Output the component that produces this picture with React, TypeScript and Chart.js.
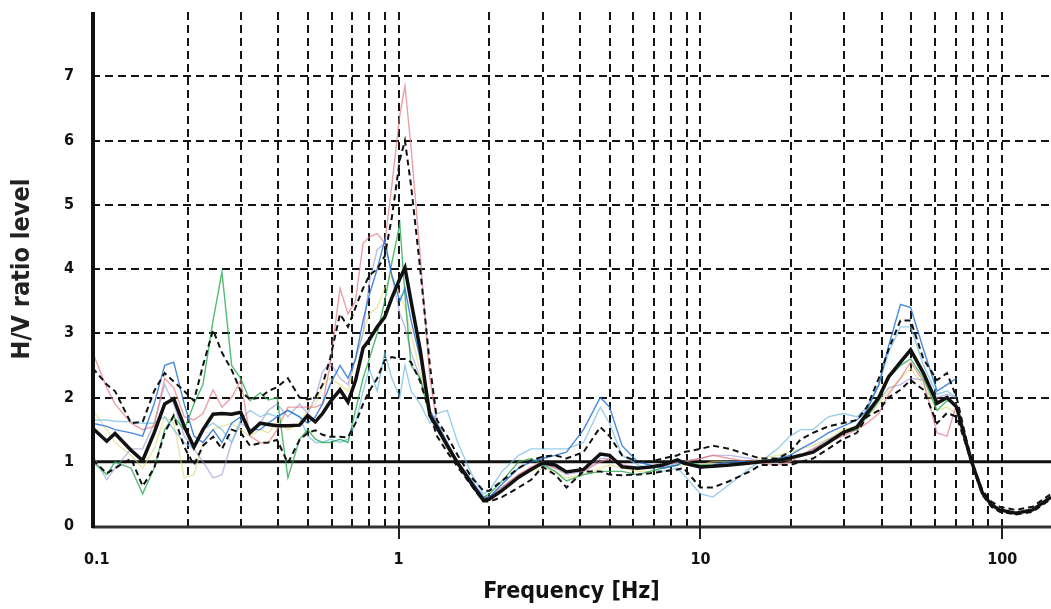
import React, { useEffect, useRef } from "react";
import { Chart, registerables } from "chart.js";
Chart.register(...registerables);

// Frequencies (Hz) shared by all curves
const FREQ = [
  0.097, 0.108, 0.115, 0.13, 0.142, 0.155, 0.168, 0.18, 0.195, 0.21,
  0.225, 0.243, 0.26, 0.28, 0.3, 0.322, 0.348, 0.37, 0.396, 0.43,
  0.47, 0.5, 0.53, 0.56, 0.593, 0.64, 0.68, 0.72, 0.763, 0.8,
  0.85, 0.9, 0.95, 1.01, 1.05, 1.1, 1.18, 1.27, 1.34, 1.45,
  1.57, 1.75, 1.91, 2.0, 2.2, 2.5, 2.75, 3.0, 3.3, 3.6,
  4.1, 4.66, 5.0, 5.5, 6.2, 6.8, 7.5, 8.4, 8.8, 10,
  11, 12.5, 14.6, 15.8, 18, 19.8, 21.5, 23.6, 26.5, 29.6,
  33, 35.6, 39, 42, 46, 49.7, 54.8, 60.8, 65.6, 70.6,
  76, 79.4, 86, 92, 98, 111, 126, 145,
];

// Average H/V curve (thick black)
const MEAN = [
  1.52, 1.32, 1.44, 1.18, 1.02, 1.45, 1.9, 1.98, 1.55, 1.23,
  1.5, 1.74, 1.75, 1.74, 1.77, 1.45, 1.6, 1.58, 1.56, 1.56,
  1.57, 1.72, 1.62, 1.75, 1.93, 2.12, 1.93, 2.26, 2.77, 2.9,
  3.1, 3.25, 3.55, 3.85, 4.02, 3.5, 2.74, 1.72, 1.54, 1.25,
  0.98, 0.65, 0.4, 0.42, 0.55, 0.76, 0.88, 0.98, 0.95, 0.84,
  0.88, 1.12, 1.1, 0.92, 0.9, 0.92, 0.95, 1.03, 0.98, 0.92,
  0.93, 0.95, 0.98, 1.0, 1.02, 1.06, 1.1, 1.15, 1.3, 1.45,
  1.54, 1.75, 2.0, 2.32, 2.55, 2.74, 2.38, 1.91, 2.0, 1.85,
  1.29, 0.98, 0.51, 0.33, 0.25, 0.2, 0.25, 0.45,
];

// Mean + standard deviation (black dashed)
const UPPER = [
  2.46, 2.2, 2.1, 1.6, 1.62, 2.1, 2.38, 2.25, 2.1, 1.95,
  2.5, 3.05, 2.7, 2.43, 2.1, 1.97, 2.0, 2.1, 2.16, 2.3,
  2.0, 1.97, 2.0, 2.2, 2.6, 3.3, 3.1, 3.4, 3.7, 3.9,
  4.0, 4.2, 4.8, 5.7, 6.0, 5.3, 4.0, 2.5, 1.65, 1.4,
  1.1, 0.75, 0.55, 0.55, 0.7, 0.9, 1.02, 1.08, 1.1, 1.05,
  1.15, 1.54, 1.4, 1.1, 1.0, 1.0, 1.05, 1.1, 1.15, 1.2,
  1.25, 1.2, 1.1, 1.05, 1.05, 1.15, 1.35, 1.45, 1.55, 1.6,
  1.65, 1.85, 2.3, 2.75, 3.2, 3.2, 2.6, 2.27, 2.38, 2.0,
  1.35, 1.0, 0.55, 0.38, 0.3, 0.25, 0.3, 0.5,
];

// Mean - standard deviation (black dashed)
const LOWER = [
  1.03, 0.82, 0.9, 1.05, 0.62, 0.9, 1.45, 1.72, 1.23, 0.95,
  1.25, 1.39, 1.2, 1.5, 1.45, 1.25, 1.29, 1.3, 1.34, 0.98,
  1.34, 1.45, 1.49, 1.42, 1.39, 1.39, 1.38, 1.6, 1.9, 2.1,
  2.3, 2.58, 2.63, 2.6, 2.6, 2.55, 2.25, 1.75, 1.4, 1.15,
  0.92, 0.62, 0.38, 0.38, 0.45, 0.6, 0.72, 0.92, 0.8, 0.6,
  0.85, 0.85, 0.8, 0.79, 0.8, 0.82, 0.85, 0.88, 0.9, 0.6,
  0.6, 0.7, 0.85, 0.95, 0.95, 0.95, 1.0, 1.05, 1.2, 1.35,
  1.45, 1.7, 1.8, 2.0, 2.12, 2.27, 2.12, 1.6, 1.76, 1.7,
  1.25, 0.95, 0.48, 0.3, 0.22, 0.18, 0.22, 0.42,
];

// Individual windows (thin coloured curves, up to ~71 Hz)
const RED = [
  2.7, 2.15, 1.9, 1.6, 1.5, 1.55, 2.3, 2.15, 1.7, 1.65,
  1.75, 2.12, 1.85, 2.0, 2.27, 1.4, 1.3, 1.29, 1.5, 1.85,
  1.85, 1.85, 1.85, 1.9, 2.5, 3.7, 3.3, 3.5, 4.4, 4.5,
  4.55, 4.4, 5.3, 6.4, 6.85, 5.9, 4.2, 2.3, 1.6, 1.3,
  1.0, 0.7, 0.45, 0.45, 0.6, 0.8, 0.92, 1.0, 0.9, 0.85,
  0.85, 1.0, 1.05, 0.95, 0.9, 0.92, 0.95, 1.0, 1.0, 1.05,
  1.1, 1.05, 1.0, 0.98, 0.95, 1.0, 1.1, 1.2, 1.3, 1.4,
  1.5, 1.6, 1.75, 2.05, 2.3, 2.55, 2.25, 1.45, 1.4, 1.9,
];
const BLUE = [
  1.6, 1.55, 1.5, 1.45, 1.4, 1.9, 2.5, 2.55, 1.9, 1.4,
  1.3, 1.5, 1.3, 1.6, 1.7, 1.5, 1.5, 1.6, 1.7, 1.8,
  1.7, 1.6, 1.7, 1.9, 2.2, 2.5, 2.3, 2.6, 3.2, 3.6,
  4.0, 4.45, 3.9, 3.5, 3.7, 3.2, 2.6, 1.8, 1.6, 1.3,
  1.0, 0.7, 0.45, 0.45, 0.65, 0.9, 1.0, 1.05, 1.1, 1.15,
  1.5, 2.0, 1.85, 1.25, 1.0, 0.95, 0.9, 0.95, 1.0, 0.9,
  0.95, 1.0, 1.0, 1.0, 1.05, 1.1, 1.2, 1.3, 1.45, 1.55,
  1.65, 1.8, 2.2, 2.8, 3.45, 3.4, 2.75, 2.1, 2.2, 2.3,
];
const GREEN = [
  1.0, 0.8, 1.0, 0.9, 0.5, 0.9, 1.5, 1.7, 1.5, 1.9,
  2.2, 3.2, 3.95, 2.5, 2.3, 1.95, 2.07, 1.96, 2.0, 0.75,
  1.35, 1.5, 1.35, 1.3, 1.3, 1.35, 1.3, 1.8, 2.3, 2.6,
  3.0, 3.5, 4.1, 4.7, 3.6, 2.5, 2.3, 1.7, 1.5, 1.25,
  0.95, 0.65, 0.45, 0.5, 0.7, 1.0, 1.05, 0.95, 0.85, 0.7,
  0.8, 0.85, 0.85, 0.85, 0.8, 0.85, 0.9, 0.95, 1.0, 0.95,
  0.95, 0.95, 1.0, 1.0, 1.0, 1.05, 1.1, 1.15, 1.3, 1.45,
  1.5, 1.7, 1.95, 2.3, 2.5, 2.6, 2.3, 1.8, 1.95, 1.9,
];
const CYAN = [
  1.65, 1.65, 1.63, 1.62, 1.6, 1.6, 1.7, 1.5, 1.3, 1.2,
  1.5, 1.6, 1.5, 1.3, 1.65, 1.8, 1.7, 1.75, 1.7, 1.8,
  1.7, 1.4, 1.3, 1.3, 1.35, 1.3, 1.35, 1.6, 2.1, 2.45,
  2.1, 2.7, 2.3, 2.0, 2.5, 2.1, 1.9, 1.6, 1.75, 1.8,
  1.3, 0.8, 0.5, 0.55, 0.85, 1.1, 1.2, 1.2, 1.2, 1.2,
  1.3, 1.85, 1.6, 1.1, 0.95, 0.9, 0.85, 0.9, 0.8, 0.5,
  0.45, 0.65, 0.9, 1.0, 1.2, 1.4, 1.5, 1.5, 1.7, 1.75,
  1.7, 1.85, 2.2, 2.7, 3.1, 3.1, 2.5, 2.05, 2.1, 2.0,
];
const YELLOW = [
  1.8, 1.5, 1.3, 1.1, 0.9, 1.2, 1.7, 1.6, 0.75, 0.8,
  1.3, 1.5, 1.55, 1.6, 1.5, 1.4, 1.5, 1.45, 1.6, 1.5,
  1.6, 1.8, 1.9, 2.2, 2.3, 2.2, 2.1, 2.6, 3.0, 3.3,
  3.4, 3.7, 3.9, 3.6, 3.4, 3.0, 2.4, 1.8, 1.5, 1.2,
  0.95, 0.65, 0.42, 0.45, 0.6, 0.8, 0.85, 0.9, 0.85, 0.75,
  0.8, 0.9, 0.95, 0.9, 0.85, 0.85, 0.9, 0.95, 0.95, 0.95,
  1.0, 1.0, 1.0, 1.05, 1.1, 1.15, 1.2, 1.25, 1.35, 1.5,
  1.55, 1.7, 1.9, 2.1, 2.3, 2.45, 2.2, 1.8, 1.85, 1.75,
];
const PURPLE = [
  1.1, 0.72, 0.9, 1.2, 1.2, 1.6, 2.2, 1.9, 1.4, 1.2,
  1.0, 0.75, 0.8, 1.3, 1.6, 1.5, 1.6, 1.8, 1.9, 1.7,
  1.9, 1.75, 2.0, 2.4, 2.55, 2.3, 2.2, 2.6, 3.0, 3.8,
  4.3, 4.4, 3.9, 3.3, 3.1, 2.7, 2.3, 1.8, 1.5, 1.25,
  1.0, 0.68, 0.43, 0.45, 0.6, 0.8, 0.9, 0.95, 0.9, 0.8,
  0.85, 1.05, 1.05, 0.95, 0.92, 0.9, 0.92, 0.98, 1.0, 1.05,
  1.1, 1.1, 1.05, 1.0, 1.0, 1.05, 1.1, 1.2, 1.35, 1.45,
  1.55, 1.7, 1.95, 2.15, 2.2, 2.3, 2.27, 2.0, 2.05, 2.0,
];

const REF_LEVEL = 1;
const X_LABEL_TICKS = [0.1, 1, 10, 100];
const X_GRID = [
  0.2, 0.3, 0.4, 0.5, 0.6, 0.7, 0.8, 0.9,
  1, 2, 3, 4, 5, 6, 7, 8, 9,
  10, 20, 30, 40, 50, 60, 70, 80, 90, 100,
];
const Y_TICKS = [0, 1, 2, 3, 4, 5, 6, 7];
const Y_GRID = [2, 3, 4, 5, 6, 7];

const FONT = '"Liberation Sans Narrow", "DejaVu Sans Condensed", "Liberation Sans", Arial, sans-serif';

const toPoints = (vals: number[]) =>
  FREQ.map((f, i) => ({ x: f, y: vals[i] === undefined ? null : vals[i] }));

const gridPlugin = {
  id: "hvGrid",
  beforeDatasetsDraw(chart: any) {
    const { ctx, chartArea, scales } = chart;
    const { left, right, top, bottom } = chartArea;
    const x = scales.x;
    const y = scales.y;
    ctx.save();
    ctx.strokeStyle = "#141414";
    ctx.lineWidth = 2;
    ctx.setLineDash([8, 5]);
    X_GRID.forEach((v) => {
      const px = Math.round(x.getPixelForValue(v));
      ctx.beginPath();
      ctx.moveTo(px, top);
      ctx.lineTo(px, bottom);
      ctx.stroke();
    });
    Y_GRID.forEach((v) => {
      const py = Math.round(y.getPixelForValue(v));
      ctx.beginPath();
      ctx.moveTo(left, py);
      ctx.lineTo(right, py);
      ctx.stroke();
    });
    ctx.setLineDash([]);
    ctx.lineWidth = 3;
    ctx.strokeStyle = "#111";
    const p1 = y.getPixelForValue(REF_LEVEL);
    ctx.beginPath();
    ctx.moveTo(left, p1);
    ctx.lineTo(right, p1);
    ctx.stroke();
    ctx.restore();
  },
  afterDatasetsDraw(chart: any) {
    const { ctx, chartArea, scales } = chart;
    const { left, right, top, bottom } = chartArea;
    const x = scales.x;
    ctx.save();
    ctx.strokeStyle = "#333";
    ctx.lineWidth = 3;
    ctx.beginPath();
    ctx.moveTo(left, bottom + 1);
    ctx.lineTo(right, bottom + 1);
    ctx.stroke();
    ctx.strokeStyle = "#111";
    ctx.lineWidth = 4;
    ctx.beginPath();
    ctx.moveTo(left + 1, top);
    ctx.lineTo(left + 1, bottom + 2);
    ctx.stroke();
    ctx.lineWidth = 2;
    ctx.strokeStyle = "#222";
    X_LABEL_TICKS.slice(1).forEach((v) => {
      const px = Math.round(x.getPixelForValue(v));
      ctx.beginPath();
      ctx.moveTo(px, bottom);
      ctx.lineTo(px, bottom + 13);
      ctx.stroke();
    });
    ctx.restore();
  },
};

export default function App() {
  const ref = useRef<HTMLCanvasElement | null>(null);
  useEffect(() => {
    if (!ref.current) return;
    const thin = (label: string, vals: number[], color: string) => ({
      label,
      data: toPoints(vals),
      borderColor: color,
      borderWidth: 1.4,
      pointRadius: 0,
      fill: false,
      tension: 0,
    });
    const chart = new Chart(ref.current, {
      type: "line",
      data: {
        datasets: [
          { label: "Average", data: toPoints(MEAN), borderColor: "#111", borderWidth: 3.5, pointRadius: 0, tension: 0, fill: false },
          { label: "+σ", data: toPoints(UPPER), borderColor: "#111", borderWidth: 2, borderDash: [6, 4], pointRadius: 0, tension: 0, fill: false },
          { label: "-σ", data: toPoints(LOWER), borderColor: "#111", borderWidth: 2, borderDash: [6, 4], pointRadius: 0, tension: 0, fill: false },
          thin("W1", BLUE, "rgba(40,115,215,0.85)"),
          thin("W2", GREEN, "rgba(40,170,80,0.8)"),
          thin("W3", RED, "rgba(226,120,130,0.7)"),
          thin("W4", CYAN, "rgba(110,185,225,0.7)"),
          thin("W5", PURPLE, "rgba(150,145,210,0.6)"),
          thin("W6", YELLOW, "rgba(220,215,110,0.6)"),
        ],
      },
      options: {
        animation: false,
        responsive: false,
        maintainAspectRatio: false,
        layout: { padding: { top: 12, right: 0, left: 0, bottom: 0 } },
        plugins: { legend: { display: false }, tooltip: { enabled: false } },
        scales: {
          x: {
            type: "logarithmic",
            min: 0.0965,
            max: 145,
            grid: { display: false },
            border: { display: false },
            afterBuildTicks: (s: any) => {
              s.ticks = X_LABEL_TICKS.map((v) => ({ value: v }));
            },
            afterFit: (s: any) => {
              s.height = 83;
            },
            ticks: {
              autoSkip: false,
              maxRotation: 0,
              padding: 16,
              color: "#111",
              font: { family: FONT, size: 16, weight: "bold" },
              callback: (v: any) => String(v),
            },
            title: {
              display: true,
              text: "Frequency [Hz]",
              color: "#111",
              font: { family: FONT, size: 23, weight: "bold" },
              padding: { top: 0, bottom: 3 },
            },
          },
          y: {
            type: "linear",
            min: 0,
            max: 8,
            grid: {
              display: true,
              drawOnChartArea: false,
              drawTicks: true,
              tickLength: 18,
              color: "rgba(0,0,0,0)",
              tickColor: "rgba(0,0,0,0)",
            },
            border: { display: false },
            afterBuildTicks: (s: any) => {
              s.ticks = Y_TICKS.map((v) => ({ value: v }));
            },
            afterFit: (s: any) => {
              s.width = 92;
            },
            ticks: {
              padding: 0,
              color: "#111",
              font: { family: FONT, size: 16, weight: "bold" },
              callback: (v: any) => String(v),
            },
            title: {
              display: true,
              text: "H/V ratio level",
              color: "#222",
              font: { family: FONT, size: 25, weight: "bold" },
              padding: { top: 7, bottom: 0 },
            },
          },
        },
      },
      plugins: [gridPlugin],
    } as any);
    return () => chart.destroy();
  }, []);
  return (
    <div style={{ position: "fixed", left: 0, top: 0, width: 1051, height: 609, background: "#fff" }}>
      <canvas ref={ref} width={1051} height={609} style={{ display: "block" }} />
    </div>
  );
}
